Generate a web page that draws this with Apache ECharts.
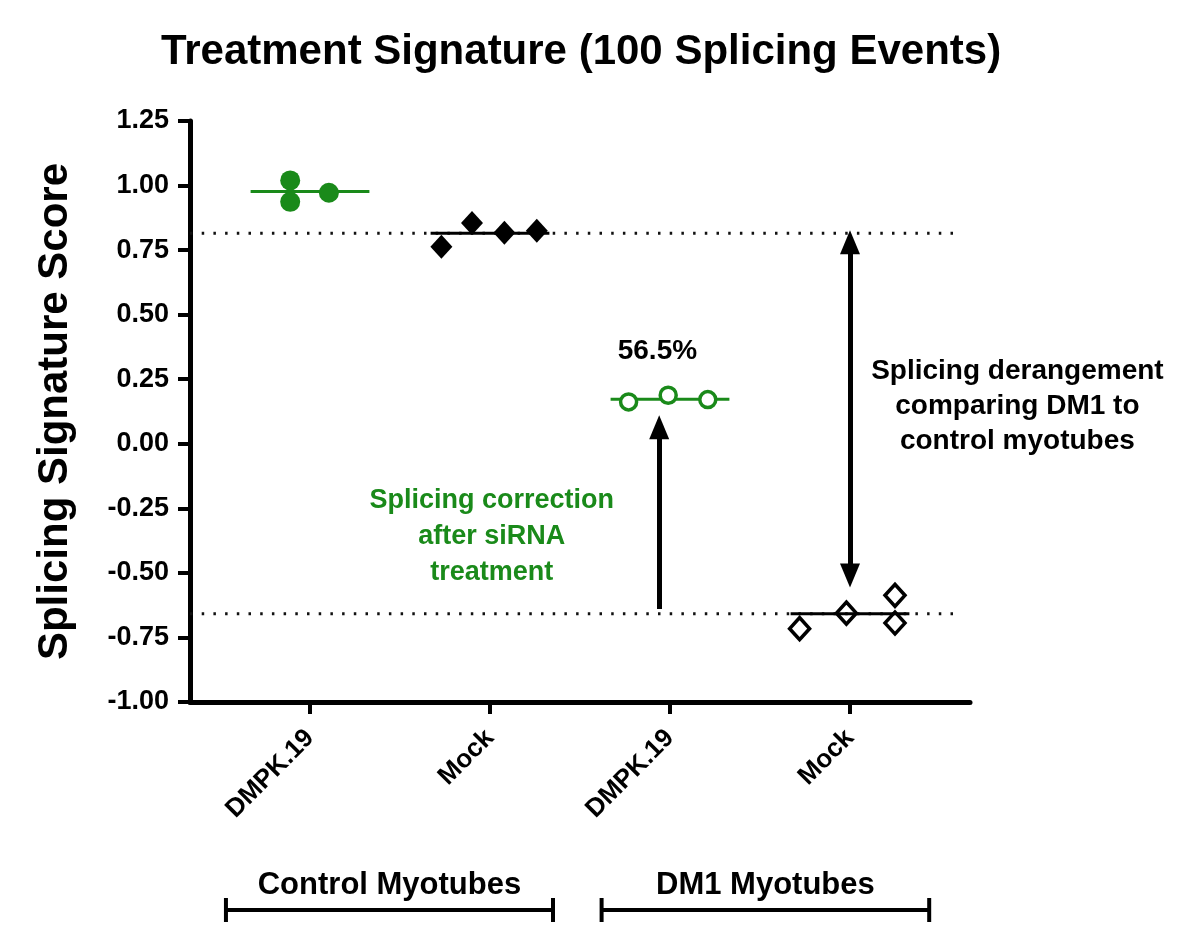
<!DOCTYPE html>
<html>
<head>
<meta charset="utf-8">
<script src="https://cdn.jsdelivr.net/npm/echarts@6/dist/echarts.min.js"></script>
<style>
html,body{margin:0;padding:0;background:#fff;}
#chart{width:1200px;height:938px;}
</style>
</head>
<body>
<div id="chart"></div>
<script>
// ---------- data ----------
const categories = ['DMPK.19', 'Mock', 'DMPK.19', 'Mock'];
const groups = ['Control Myotubes', 'DM1 Myotubes'];
const yTicks = [-1.00, -0.75, -0.50, -0.25, 0.00, 0.25, 0.50, 0.75, 1.00, 1.25];

// point x offsets within each category (jitter as drawn) and values
const ctrlSiJitter = [-0.11, -0.11, 0.105];
const ctrlSiValues = [1.020, 0.937, 0.972];
const ctrlMockJitter = [-0.27, -0.10, 0.08, 0.26];
const ctrlMockValues = [0.763, 0.855, 0.817, 0.825];
const dm1SiJitter = [-0.23, -0.01, 0.21];
const dm1SiValues = [0.162, 0.188, 0.171];
const dm1MockJitter = [-0.28, -0.02, 0.25, 0.25];
const dm1MockValues = [-0.716, -0.656, -0.587, -0.694];

const groupMeans = [0.977, 0.815, 0.172, -0.658];
const controlLevel = 0.815;
const dm1Level = -0.658;
const correctionArrow = [-0.64, 0.064];
const derangementArrow = [-0.51, 0.78];
const pctLabel = '56.5%';

const GREEN = '#1a8a1a';
const FONT = '"Liberation Sans", Arial, sans-serif';

function pts(ci, jit, vals) { return vals.map((v, i) => [ci + jit[i], v]); }

const xMin = -0.6667, xMax = 3.6667, halfMean = 0.33;

const chart = echarts.init(document.getElementById('chart'), null, {renderer: 'canvas'});

const series = [];
// reference dotted lines
[controlLevel, dm1Level].forEach(lv => {
  series.push({
    type: 'line', data: [[xMin, lv], [3.61, lv]], symbol: 'none', silent: true,
    lineStyle: {color: '#111', width: 3, type: [2.5, 9.2]}, z: 1
  });
});
// mean lines
const meanColors = [GREEN, '#000', GREEN, '#000'];
groupMeans.forEach((m, i) => {
  series.push({
    type: 'line', data: [[i - halfMean, m], [i + halfMean, m]], symbol: 'none', silent: true,
    lineStyle: {color: meanColors[i], width: 3}, z: 2
  });
});
// points
series.push({type: 'scatter', data: pts(0, ctrlSiJitter, ctrlSiValues), symbol: 'circle', symbolSize: 20,
  itemStyle: {color: GREEN, opacity: 1}, z: 3});
series.push({type: 'scatter', data: pts(1, ctrlMockJitter, ctrlMockValues), symbol: 'diamond', symbolSize: [22, 24],
  itemStyle: {color: '#000', opacity: 1}, z: 3});
series.push({type: 'scatter', data: pts(2, dm1SiJitter, dm1SiValues), symbol: 'circle', symbolSize: 16,
  itemStyle: {color: '#fff', borderColor: GREEN, borderWidth: 3.5, opacity: 1}, z: 3});
series.push({type: 'scatter', data: pts(3, dm1MockJitter, dm1MockValues), symbol: 'diamond', symbolSize: [20, 22],
  itemStyle: {color: 'rgba(255,255,255,0)', borderColor: '#000', borderWidth: 3.5, opacity: 1}, z: 3});
// arrows
series.push({
  type: 'scatter', data: [], silent: true,
  markLine: {
    silent: true, animation: false,
    label: {show: false},
    lineStyle: {color: '#000', width: 5, type: 'solid'},
    symbolSize: [20, 24],
    data: [
      [{coord: [1.94, correctionArrow[0]], symbol: 'none'}, {coord: [1.94, correctionArrow[1]], symbol: 'triangle'}],
      [{coord: [3.0, derangementArrow[0]], symbol: 'triangle'}, {coord: [3.0, derangementArrow[1]], symbol: 'triangle'}]
    ]
  }
});

const option = {
  animation: false,
  backgroundColor: '#fff',
  title: {
    text: 'Treatment Signature (100 Splicing Events)',
    left: 576, top: 26, textAlign: 'center',
    textStyle: {fontFamily: FONT, fontWeight: 'bold', fontSize: 42, color: '#000'}
  },
  grid: {left: 190, right: 230, top: 121, bottom: 236, containLabel: false},
  xAxis: {
    type: 'value', min: xMin, max: xMax,
    axisLine: {onZero: false, lineStyle: {color: '#000', width: 5}},
    axisTick: {show: true, customValues: [0, 1, 2, 3], length: 12, lineStyle: {color: '#000', width: 4}},
    axisLabel: {
      customValues: [0, 1, 2, 3], rotate: 45, margin: 32,
      formatter: v => categories[Math.round(v)],
      fontFamily: FONT, fontWeight: 'bold', fontSize: 26, color: '#000'
    },
    splitLine: {show: false}
  },
  yAxis: {
    type: 'value', min: -1, max: 1.25, interval: 0.25,
    name: 'Splicing Signature Score', nameLocation: 'middle', nameGap: 114, nameRotate: 90,
    nameTextStyle: {fontFamily: FONT, fontWeight: 'bold', fontSize: 42, color: '#000'},
    axisLine: {show: true, onZero: false, lineStyle: {color: '#000', width: 5}},
    axisTick: {show: true, length: 12, lineStyle: {color: '#000', width: 4}},
    axisLabel: {
      margin: 21, formatter: v => v.toFixed(2),
      fontFamily: FONT, fontWeight: 'bold', fontSize: 27, color: '#000'
    },
    splitLine: {show: false}
  },
  series: series
};
chart.setOption(option);

// annotations and group brackets positioned via the chart's scales
function px(x, y) { return chart.convertToPixel({gridIndex: 0}, [x, y]); }
const g = [];
const pPct = px(1.93, 0.36);
g.push({type: 'text', x: pPct[0], y: pPct[1], style: {text: pctLabel, fill: '#000', font: 'bold 28px ' + FONT, align: 'center', verticalAlign: 'middle'}});
const pCorr = px(1.01, -0.36);
g.push({type: 'text', x: pCorr[0], y: pCorr[1], style: {text: 'Splicing correction\nafter siRNA\ntreatment', fill: GREEN, font: 'bold 27px ' + FONT, align: 'center', verticalAlign: 'middle', lineHeight: 36}});
const pDer = px(3.93, 0.145);
g.push({type: 'text', x: pDer[0], y: pDer[1], style: {text: 'Splicing derangement\ncomparing DM1 to\ncontrol myotubes', fill: '#000', font: 'bold 28px ' + FONT, align: 'center', verticalAlign: 'middle', lineHeight: 35}});

const groupSpans = [[-0.467, 1.35], [1.62, 3.44]];
const bracketY = 910, textY = 885;
groupSpans.forEach((s, i) => {
  const a = px(s[0], 0)[0], b = px(s[1], 0)[0];
  g.push({type: 'line', shape: {x1: a, y1: bracketY, x2: b, y2: bracketY}, style: {stroke: '#000', lineWidth: 4}});
  g.push({type: 'line', shape: {x1: a, y1: bracketY - 12, x2: a, y2: bracketY + 12}, style: {stroke: '#000', lineWidth: 4}});
  g.push({type: 'line', shape: {x1: b, y1: bracketY - 12, x2: b, y2: bracketY + 12}, style: {stroke: '#000', lineWidth: 4}});
  g.push({type: 'text', x: (a + b) / 2, y: textY, style: {text: groups[i], fill: '#000', font: 'bold 31px ' + FONT, align: 'center', verticalAlign: 'middle'}});
});
chart.setOption({graphic: g});
</script>
</body>
</html>
